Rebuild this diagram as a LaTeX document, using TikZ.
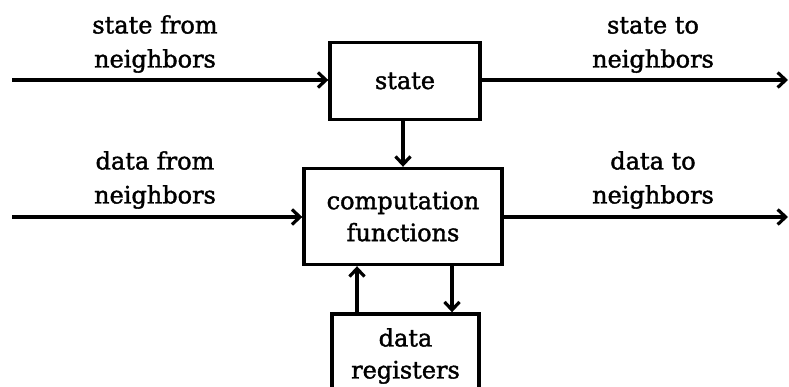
\documentclass[tikz,border=0pt]{standalone}
\usepackage{fontspec}
\setmainfont{DejaVu Serif}
\newfontfamily\lblfont{DejaVu Serif}[FakeBold=1.6]
\usetikzlibrary{arrows.meta}
\begin{document}
\begin{tikzpicture}[x=1pt,y=-1pt,
  box/.style={draw,line width=3.4pt,align=center,inner sep=0pt,font=\lblfont\fontsize{24}{32}\selectfont},
  lbl/.style={align=center,inner sep=0pt,font=\lblfont\fontsize{24}{34}\selectfont},
  conn/.style={line width=3.8pt,-{Straight Barb[length=8pt,width=15pt,line width=3.2pt]}}]
\useasboundingbox (0,0) rectangle (789,387);
\clip (0,0) rectangle (789,387);
\node[box,minimum width=150pt,minimum height=77pt] (state) at (405,81) {state};
\node[box,minimum width=198pt,minimum height=96pt] (comp) at (403,216.5) {computation\\functions};
\node[box,minimum width=147pt,minimum height=84pt] (data) at (405.5,356) {data\\registers};
\coordinate (sin) at (12,80);
\coordinate (sout) at (788,80);
\coordinate (din) at (12,217);
\coordinate (dout) at (788,217);
\draw[conn] (sin) -- (state.west |- sin);
\draw[conn] (state.east |- sout) -- (sout);
\draw[conn] (din) -- (comp.west |- din);
\draw[conn] (comp.east |- dout) -- (dout);
\draw[conn] (state.south -| 403,0) -- (comp.north -| 403,0);
\draw[conn] (data.north -| 357,0) -- (comp.south -| 357,0);
\draw[conn] (comp.south -| 452,0) -- (data.north -| 452,0);
\node[lbl] (l1) at (155,44) {state from\\neighbors};
\node[lbl] (l2) at (653,45) {state to\\neighbors};
\node[lbl] (l3) at (155,180) {data from\\neighbors};
\node[lbl] (l4) at (653,180) {data to\\neighbors};
\end{tikzpicture}
\end{document}
